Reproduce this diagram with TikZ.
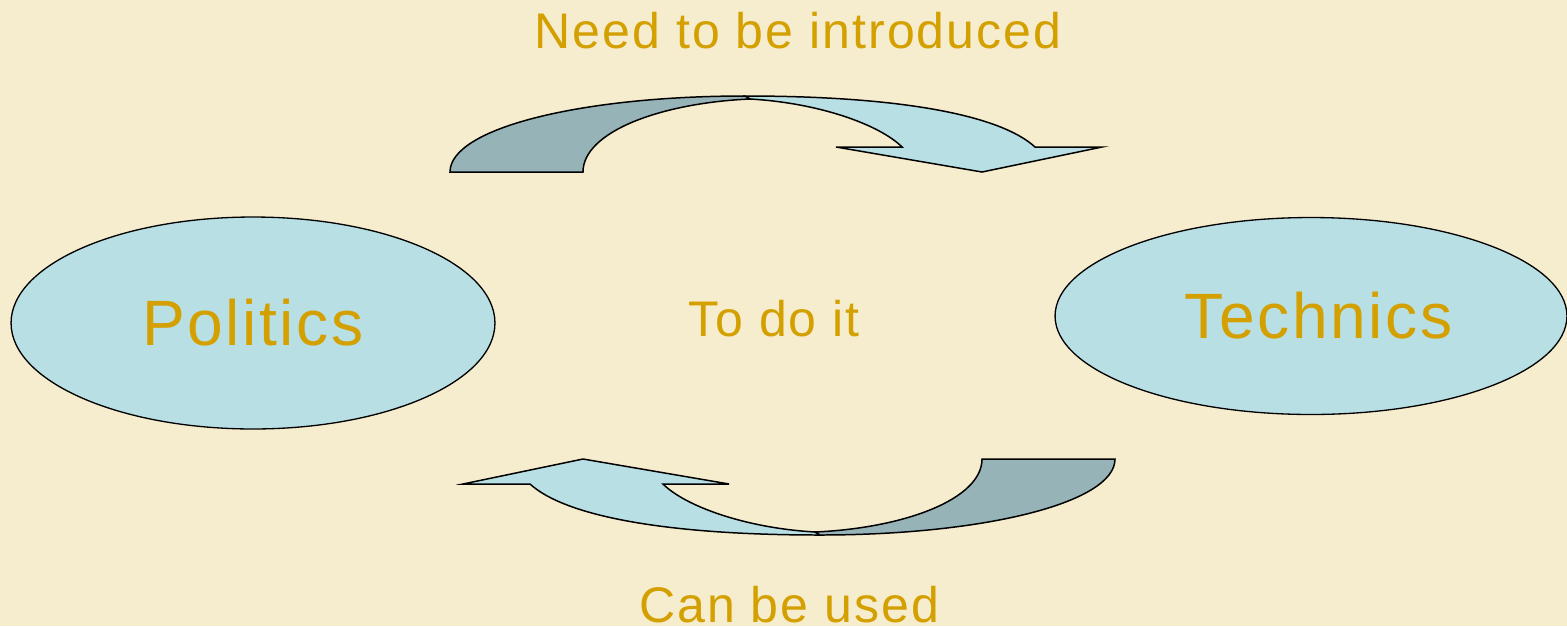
\documentclass[tikz,border=0pt]{standalone}
\usepackage{fontspec}
\setmainfont{Liberation Sans}[LetterSpace=4]
\usepackage{tikz}
\usetikzlibrary{shapes.geometric, positioning}
\definecolor{bgcream}{RGB}{246, 236, 206}
\definecolor{goldtext}{RGB}{212, 160, 0}
\definecolor{palecyan}{RGB}{184, 224, 228}
\definecolor{greycyan}{RGB}{150, 180, 184}

% one half of the cycle: curved arrow bending over and down to the right
\newcommand{\halfcycle}{%
  \filldraw[frontpart] (745,96) .. controls (900,96) and (1000,115) .. (1035,147)
    -- (1102,147) -- (982,172) -- (836,147) -- (902,147)
    .. controls (880,125) and (820,103) .. (750,99) -- cycle;
  \filldraw[backpart] (450,172) .. controls (450,128) and (582,96) .. (745,96)
    -- (750,99) .. controls (660,103) and (583,132) .. (583,172) -- cycle;
}

\begin{document}
\begin{tikzpicture}[
  x=0.02cm, y=-0.02cm,
  bubble/.style={ellipse, draw=black, fill=palecyan, line width=0.75pt, inner sep=0pt, text=goldtext, font=\fontsize{36.5}{40}\selectfont},
  caption/.style={anchor=base, text=goldtext, inner sep=0pt, font=\fontsize{28.5}{32}\selectfont},
  frontpart/.style={draw=black, fill=palecyan, line width=0.85pt, line join=miter},
  backpart/.style={draw=black, fill=greycyan, line width=0.85pt, line join=miter}
]
  \fill[bgcream] (0,0) rectangle (1567,626);
  \useasboundingbox (0,0) rectangle (1567,626);

  \node[bubble, minimum width=9.68cm, minimum height=4.24cm] (politics) at (253,323) {Politics};
  \node[bubble, minimum width=10.24cm, minimum height=3.94cm] (technics) at (1311,316) {\hspace*{0.3cm}Technics};

  \node[caption] (introduced) at (798,48) {Need to be introduced};
  \node[caption] (doit) at (774,336) {To do it};
  \node[caption] (used) at (789,622) {Can be used};

  \halfcycle
  \begin{scope}[rotate around={180:(782.5,315.5)}]
    \halfcycle
  \end{scope}
\end{tikzpicture}
\end{document}
